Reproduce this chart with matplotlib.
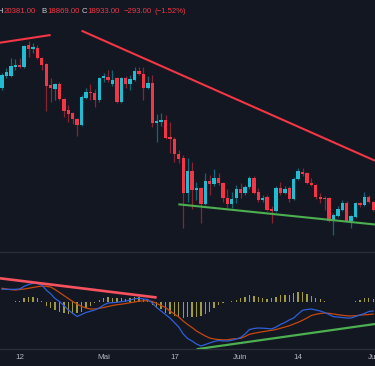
import matplotlib
matplotlib.use('Agg')
import matplotlib.pyplot as plt

# ---------------- data ----------------
opens = [52400,54800,54800,56600,57000,56600,61000,60200,60400,58400,
         57200,53000,52200,53200,50200,48000,47400,46200,45000,50400,
         51600,51400,50000,54400,54600,53200,54400,49600,54400,53200,
         54000,55800,55200,52400,53400,45400,45600,46000,42600,42200,
         39200,38400,31400,35800,32000,32400,29200,33800,33200,34400,
         33400,30400,29200,30400,32200,31400,32600,34400,31600,30000,
         30600,28200,27800,32400,31400,32400,30200,34200,35600,35400,
         33400,33000,30600,30400,30400,25800,26800,28000,29400,25800,
         26600,29400,29000,30600,29600]
closes = [55000,55600,56800,57000,56600,60800,60200,60600,58400,57000,
          52800,52400,53200,50200,47800,47200,46200,45000,50600,51600,
          51400,50000,54400,54800,54000,54000,49600,54400,53200,54200,
          55800,55200,52400,53400,45400,45800,46000,42400,42200,39200,
          38200,31400,35800,32000,32400,29200,33800,33200,34400,33400,
          30400,29200,30200,32200,31400,32600,34400,31400,30000,30400,
          28000,27800,32400,31400,32200,30200,34200,35800,35200,33400,
          33000,30600,30200,30200,25800,27000,28200,29400,25800,26800,
          29400,29000,30600,29600,28000]
highs = [55400,56400,58400,58200,58400,61000,61800,61400,61000,58600,
         57400,54400,53400,53600,50400,49000,47600,46400,51000,52400,
         53200,52200,54600,55400,56000,56000,54600,54600,54800,55000,
         56600,56600,56600,54800,55000,47200,47400,47000,45600,42600,
         40000,39000,38400,37600,33600,32600,35400,35000,36200,35400,
         33600,32200,31600,33000,33400,33000,34800,34800,32400,31000,
         31000,28800,32800,33600,32800,32800,34600,36400,36400,35600,
         34400,33200,31400,30800,30600,27400,28800,30000,29800,27000,
         29600,29600,31600,31000,29800]
lows = [52000,54400,54600,56000,56400,56400,58600,59400,58200,56000,
        47800,49600,50000,50000,46600,45600,45200,42800,44800,50200,
        50000,48600,49600,53600,53600,52800,49400,49400,52400,52000,
        53800,55000,50000,52200,44600,41600,44800,42200,39400,37600,
        37400,24400,29600,28200,30000,25400,29000,31000,32800,33000,
        29600,28400,28400,29400,30400,31000,32200,31200,29600,29600,
        27800,25400,27600,31000,31200,29600,30000,34000,34800,33200,
        32800,30200,29400,28000,25600,23000,26600,27800,25600,24400,
        26400,28600,28800,29400,27800]

macd = [1220,1220,1220,1220,1250,1520,1700,1820,1800,1650,
        1150,780,300,0,-400,-850,-1180,-1500,-1300,-1100,
        -980,-850,-650,-350,-150,-120,-80,-20,40,150,
        270,320,250,200,-150,-600,-950,-1300,-1650,-2100,
        -2550,-3250,-3700,-3950,-4250,-4450,-4300,-4150,-4000,-3900,
        -3950,-3950,-3880,-3750,-3600,-3250,-2800,-2700,-2650,-2670,
        -2700,-2750,-2550,-2300,-2100,-1850,-1650,-1250,-880,-800,
        -750,-850,-950,-1100,-1300,-1520,-1550,-1600,-1650,-1650,
        -1500,-1350,-1200,-1000,-950]
signal = [1320,1250,1180,1150,1200,1250,1320,1400,1480,1550,
          1520,1450,1200,900,600,300,0,-250,-500,-650,
          -750,-750,-680,-600,-500,-400,-320,-270,-200,-120,
          -50,30,70,80,0,-200,-400,-600,-950,-1250,
          -1550,-1950,-2300,-2600,-2950,-3200,-3450,-3650,-3750,-3800,
          -3830,-3830,-3750,-3720,-3680,-3500,-3280,-3180,-3100,-3020,
          -2950,-2880,-2800,-2680,-2550,-2430,-2250,-2080,-1880,-1650,
          -1400,-1280,-1200,-1150,-1180,-1250,-1320,-1380,-1430,-1450,
          -1420,-1370,-1330,-1300,-1250]
hist = [-50,-50,-50,50,70,330,430,470,330,50,
        -400,-600,-830,-1000,-1170,-1270,-1270,-1170,-1000,-670,
        -400,-170,200,400,430,400,330,330,270,330,
        430,470,230,230,-330,-600,-770,-1100,-1270,-1430,
        -1530,-1600,-1530,-1530,-1530,-1430,-1200,-1000,-600,-300,
        -150,-50,50,150,330,500,670,570,500,330,
        230,330,500,670,670,670,830,1000,1000,770,
        570,330,230,100,-30,-50,-50,-50,-50,-30,
        100,170,330,400,300]

# drawn trend lines (candle index, value)
price_red1_x = [-0.45, 11.0]
price_red1_y = [61460, 63000]
price_red2_x = [18.0, 84.4]
price_red2_y = [63860, 37860]
price_green_x = [39.9, 84.4]
price_green_y = [29140, 25100]
macd_red_x = [-0.45, 35.0]
macd_red_y = [2320, 400]
macd_green_x = [44.05, 84.4]
macd_green_y = [-4770, -2250]

tick_idx = [4, 23, 39, 54, 67, 84]
tick_labels = ["12", "Mai", "17", "Juin", "14", "Jul"]

header = [("H", "20381.00"), ("B", "18869.00"), ("C", "18933.00")]
change = ["\u2212293.00", "(\u22121.52%)"]

# ---------------- style ----------------
BG = '#131722'
UP = '#1fbcd2'
DN = '#f23645'
UPW = '#0f6878'
DNW = '#8a2430'
SEP = '#2a2e39'
TXT = '#b2b5be'
plt.rcParams['font.family'] = ['Liberation Sans', 'DejaVu Sans']

W, H = 375, 366
fig = plt.figure(figsize=(W / 100, H / 100), dpi=100, facecolor=BG)
ax = fig.add_axes([0, 115 / H, 1, 251 / H])
ax2 = fig.add_axes([0, 17 / H, 1, 97 / H])
for a in (ax, ax2):
    a.set_facecolor(BG)
    a.set_xlim(-0.45, 84.4)
    for s in a.spines.values():
        s.set_visible(False)
ax.set_ylim(19800, 70000)
ax2.set_ylim(-4750, 4950)

# candles
n = len(opens)
xs = list(range(n))
wick_cols = [UPW if c >= o else DNW for o, c in zip(opens, closes)]
body_cols = [UP if c >= o else DN for o, c in zip(opens, closes)]
ax.vlines(xs, lows, highs, colors=wick_cols, linewidth=0.9, zorder=2)
bottoms = [min(o, c) for o, c in zip(opens, closes)]
heights = [max(abs(c - o), 220) for o, c in zip(opens, closes)]
ax.bar(xs, heights, bottom=bottoms, width=0.76, color=body_cols,
       linewidth=0, zorder=3)

ax.plot(price_red1_x, price_red1_y, color='#f23645', lw=1.5, zorder=4,
        solid_capstyle='butt')
ax.plot(price_red2_x, price_red2_y, color='#f23645', lw=1.5, zorder=4,
        solid_capstyle='butt')
ax.plot(price_green_x, price_green_y, color='#4caf50', lw=1.5, zorder=4,
        solid_capstyle='butt')
ax.set_xticks([])
ax.set_yticks([])

# MACD pane
ax2.bar(xs, hist, width=0.3, color='#a19a3e', linewidth=0, zorder=2)
ax2.plot(xs, signal, color='#c5480f', lw=0.9, zorder=3)
ax2.plot(xs, macd, color='#2f5fd8', lw=0.9, zorder=4)
ax2.plot(macd_red_x, macd_red_y, color='#f7525f', lw=1.9, zorder=5,
         solid_capstyle='butt')
ax2.plot(macd_green_x, macd_green_y, color='#4caf50', lw=1.6, zorder=5,
         solid_capstyle='butt')
ax2.spines['top'].set_visible(True)
ax2.spines['bottom'].set_visible(True)
ax2.spines['top'].set_color(SEP)
ax2.spines['bottom'].set_color(SEP)
ax2.spines['top'].set_linewidth(1.0)
ax2.spines['bottom'].set_linewidth(1.0)
ax2.set_yticks([])
ax2.set_xticks(tick_idx)
ax2.set_xticklabels(tick_labels)
ax2.tick_params(axis='x', length=0, pad=3.4, labelsize=5.8, labelcolor=TXT)

# header text
fs = 5.6
base_y = 1 - 12.7 / H
pos = [(-2.3, 3.9), (41.6, 47.6), (81.2, 87.4)]
for (lab, val), (xl, xv) in zip(header, pos):
    fig.text(xl / W, base_y, lab, color='#c9ccd4', fontsize=fs, va='baseline')
    fig.text(xv / W, base_y, val, color=DN, fontsize=fs, va='baseline')
fig.text(123.5 / W, base_y, change[0], color=DN, fontsize=fs, va='baseline')
fig.text(154.8 / W, base_y, change[1], color=DN, fontsize=fs, va='baseline')

fig.savefig('out.png', dpi=100, facecolor=BG)
